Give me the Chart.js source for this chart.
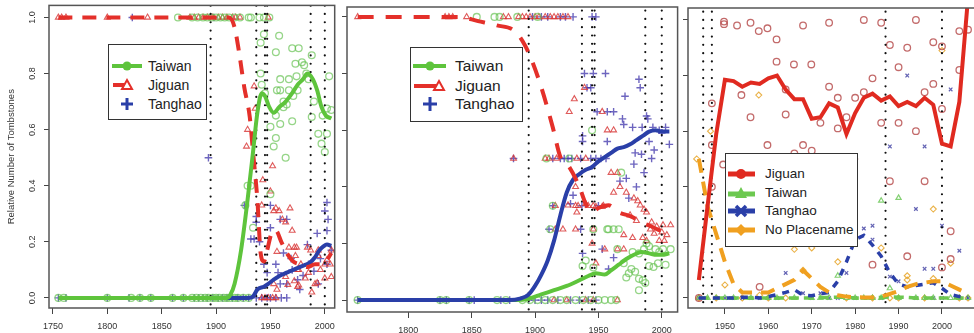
<!DOCTYPE html>
<html lang="en">
<head>
<meta charset="UTF-8">
<title>Tombstones</title>
<script src="https://cdn.jsdelivr.net/npm/chart.js@4.4.1/dist/chart.umd.min.js"></script>
<style>
  body { margin: 0; width: 974px; height: 333px; overflow: hidden; background: #fff; position: relative; }
  canvas { position: absolute; top: 0; }
  .leg { position: absolute; border: 1.5px solid #333; background: #fff; box-sizing: border-box;
         font-family: "Liberation Sans", Arial, Helvetica, sans-serif; color: #222; }
  .leg .row { position: absolute; left: 0; right: 0; }
  .leg svg { position: absolute; top: 0; }
  .leg span { position: absolute; white-space: nowrap; }
</style>
</head>
<body>
<canvas id="c1" width="342" height="333" style="left:0px"></canvas>
<canvas id="c2" width="342" height="333" style="left:341px"></canvas>
<canvas id="c3" width="300" height="333" style="left:682px"></canvas>

<!-- legend panel 1 -->
<div class="leg" style="left:108px;top:44px;width:99px;height:76px;font-size:14px">
  <div class="row" style="top:12px;height:18px;line-height:18px">
    <svg width="32" height="18" style="left:2px"><line x1="1" y1="9" x2="31" y2="9" stroke="#5ec43c" stroke-width="4"/><circle cx="16" cy="9" r="4.5" fill="#5ec43c"/></svg>
    <span style="left:39px">Taiwan</span></div>
  <div class="row" style="top:31px;height:18px;line-height:18px">
    <svg width="32" height="18" style="left:2px"><line x1="2" y1="9" x2="16" y2="9" stroke="#e4302a" stroke-width="4"/><polygon points="16,4 21,13 11,13" fill="#fff" stroke="#e4302a" stroke-width="2"/></svg>
    <span style="left:39px">Jiguan</span></div>
  <div class="row" style="top:50px;height:18px;line-height:18px">
    <svg width="32" height="18" style="left:2px"><line x1="16" y1="3" x2="16" y2="15" stroke="#2a3fa8" stroke-width="3"/><line x1="10" y1="9" x2="22" y2="9" stroke="#2a3fa8" stroke-width="3"/></svg>
    <span style="left:39px">Tanghao</span></div>
</div>

<!-- legend panel 2 -->
<div class="leg" style="left:410px;top:47px;width:113px;height:75px;font-size:15.5px">
  <div class="row" style="top:8px;height:20px;line-height:20px">
    <svg width="36" height="20" style="left:1px"><line x1="1" y1="10" x2="34" y2="10" stroke="#5ec43c" stroke-width="4"/><circle cx="18" cy="10" r="4.5" fill="#5ec43c"/></svg>
    <span style="left:44px">Taiwan</span></div>
  <div class="row" style="top:28px;height:20px;line-height:20px">
    <svg width="36" height="20" style="left:1px"><line x1="2" y1="10" x2="24" y2="10" stroke="#e4302a" stroke-width="4"/><polygon points="27,5 32,14 22,14" fill="#fff" stroke="#e4302a" stroke-width="2"/></svg>
    <span style="left:44px">Jiguan</span></div>
  <div class="row" style="top:46px;height:20px;line-height:20px">
    <svg width="36" height="20" style="left:1px"><line x1="18" y1="3" x2="18" y2="17" stroke="#2a3fa8" stroke-width="3"/><line x1="11" y1="10" x2="25" y2="10" stroke="#2a3fa8" stroke-width="3"/></svg>
    <span style="left:44px">Tanghao</span></div>
</div>

<!-- legend panel 3 -->
<div class="leg" style="left:725px;top:153px;width:133px;height:94px;font-size:13.5px">
  <div class="row" style="top:11px;height:18px;line-height:18px">
    <svg width="30" height="18" style="left:1px"><line x1="1" y1="9" x2="28" y2="9" stroke="#e02a20" stroke-width="5"/><circle cx="14" cy="9" r="5" fill="#e02a20"/></svg>
    <span style="left:39px">Jiguan</span></div>
  <div class="row" style="top:30px;height:18px;line-height:18px">
    <svg width="30" height="18" style="left:1px"><line x1="1" y1="10" x2="28" y2="10" stroke="#6cc850" stroke-width="5"/><polygon points="14,3 20,14 8,14" fill="#6cc850"/></svg>
    <span style="left:39px">Taiwan</span></div>
  <div class="row" style="top:48px;height:18px;line-height:18px">
    <svg width="30" height="18" style="left:1px"><line x1="1" y1="9" x2="28" y2="9" stroke="#2a3fa8" stroke-width="5"/><line x1="9" y1="4" x2="19" y2="14" stroke="#2a3fa8" stroke-width="3.5"/><line x1="19" y1="4" x2="9" y2="14" stroke="#2a3fa8" stroke-width="3.5"/></svg>
    <span style="left:39px">Tanghao</span></div>
  <div class="row" style="top:67px;height:18px;line-height:18px">
    <svg width="30" height="18" style="left:1px"><line x1="1" y1="9" x2="28" y2="9" stroke="#f0a020" stroke-width="5"/><polygon points="14,3 20,9 14,15 8,9" fill="#f0a020"/></svg>
    <span style="left:39px">No Placename</span></div>
</div>

<script>
// ---- axes ----
var xTicks1 = [1750, 1800, 1850, 1900, 1950, 2000];
var xTicks2 = [1800, 1850, 1900, 1950, 2000];
var xTicks3 = [1950, 1960, 1970, 1980, 1990, 2000];
var yTicks = [0, 0.2, 0.4, 0.6, 0.8, 1.0];
var eventYears = [1895, 1937, 1945, 1947, 1987, 2000];

// ---- panel 1: smoothed lines ----
var p1TaiwanYears = [1755, 1910, 1913, 1917, 1923, 1929, 1934, 1938, 1942, 1945, 1949, 1953, 1958, 1964, 1970, 1975, 1980, 1984, 1989, 1993, 1997, 2001, 2006];
var p1TaiwanVals  = [0, 0, 0.01, 0.05, 0.17, 0.35, 0.52, 0.66, 0.73, 0.72, 0.68, 0.66, 0.68, 0.70, 0.73, 0.76, 0.78, 0.80, 0.78, 0.74, 0.68, 0.65, 0.64];
var p1JiguanYears = [1755, 1905, 1912, 1917, 1921, 1926, 1931, 1934, 1938, 1941, 1944, 1947, 1951, 1955, 1960, 1965, 1971, 1977, 1984, 1991, 1996, 2001, 2006];
var p1JiguanVals  = [1, 1, 1, 0.965, 0.88, 0.75, 0.645, 0.52, 0.35, 0.16, 0.13, 0.17, 0.23, 0.24, 0.2, 0.16, 0.13, 0.12, 0.11, 0.12, 0.12, 0.13, 0.16];
var p1TanghaoYears = [1755, 1930, 1934, 1938, 1944, 1948, 1953, 1959, 1965, 1971, 1977, 1982, 1986, 1991, 1995, 1999, 2002, 2006];
var p1TanghaoVals  = [0, 0, 0.005, 0.03, 0.04, 0.05, 0.065, 0.08, 0.09, 0.1, 0.11, 0.118, 0.125, 0.145, 0.17, 0.185, 0.19, 0.185];

// ---- panel 1: yearly points ----
var p1TaiwanPts = [[1755,0],[1760,0],[1800,0],[1822,0],[1830,0],[1840,0],[1860,0],[1870,0],[1878,0],[1882,0],[1886,0],[1890,0],[1893,0],[1897,0],[1900,0],[1903,0],[1907,0],[1910,0],[1913,0],[1917,0],[1920,0],[1925,0],[1930,0],
  [1865,1],[1878,1],[1883,1],[1888,1],[1892,1],[1896,1],[1900,1],[1904,1],[1908,1],[1912,1],[1917,1],[1922,1],[1930,1],[1932,1],[1940,1],[1944,1],[1949,1],
  [1941,0.91],[1944,0.94],[1958,0.935],[1955,0.876],[1970,0.89],[1976,0.89],[1973,0.835],[1981,0.83],[1988,0.865],[1941,0.80],[1959,0.78],[1967,0.78],[1974,0.79],[1983,0.80],
  [1959,0.74],[1956,0.74],[1967,0.74],[1975,0.74],[1965,0.69],[1971,0.72],[1962,0.68],[1955,0.65],[1959,0.62],[1970,0.63],[1988,0.645],[1998,0.65],[2002,0.675],[2006,0.67],
  [1950,0.61],[1955,0.57],[1994,0.585],[2002,0.585],[1953,0.54],[1997,0.55],[2000,0.52],[1964,0.50],[1942,0.76],[1945,0.73],[2004,0.79],[1929,0.40],[1932,0.40],[1927,0.33],
  [1934,0.25],[1950,0.37],[1985,0.78],[1979,0.84],[1962,0.70],[1990,0.70]];
var p1JiguanPts = [[1755,1],[1758,1],[1762,1],[1800,1],[1837,1],[1876,1],[1880,1],[1884,1],[1888,1],[1892,1],[1897,1],[1902,1],[1906,1],[1910,1],[1915,1],[1918,1],[1922,1],[1948,1],
  [1942,0],[1945,0],[1948,0],[1952,0],[1955,0],
  [1935,0.755],[1936,0.675],[1929,0.60],[1928,0.54],[1952,0.47],[1950,0.38],[1955,0.32],[1958,0.31],[1968,0.32],[1961,0.28],[1964,0.27],[1974,0.18],[1967,0.18],[1984,0.18],
  [1994,0.15],[2000,0.12],[2006,0.17],[2006,0.075],[1976,0.10],[1972,0.06],[1964,0.075],[1976,0.045],[1991,0.05],[2000,0.07],[1987,0.17],[1953,0.05],[1956,0.03],[1953,0.31],
  [1970,0.24],[1972,0.18],[1956,0.165],[1973,0.15],[1975,0.10],[1966,0.047],[1975,0.04],[1982,0.07],[1994,0.17],[2002,0.135],[2005,0.12],[1993,0.053],[1988,0.02],[1942,0.33],
  [1943,0.42],[1978,0.12],[1985,0.09],[1996,0.10]];
var p1TanghaoPts = [[1755,0],[1762,0],[1800,0],[1820,0],[1830,0],[1840,0],[1860,0],[1870,0],[1880,0],[1884,0],[1888,0],[1892,0],[1897,0],[1902,0],[1906,0],[1910,0],[1915,0],[1920,0],[1925,0],[1930,0],[1937,0],[1942,0],[1947,0],[1950,0],[1955,0],[1960,0],[1965,0],
  [1823,1],[1898,1],[1893,0.50],[1926,0.33],[1937,0.29],[1937,0.27],[1935,0.21],[1932,0.21],[1950,0.33],[1950,0.25],[1959,0.28],[1965,0.28],[2002,0.34],[2000,0.31],[2003,0.28],
  [1984,0.19],[1993,0.23],[2002,0.24],[1944,0.12],[1947,0.09],[1955,0.12],[1959,0.05],[1965,0.05],[1975,0.065],[1977,0.03],[1985,0.12],[1990,0.095],[1994,0.05],[2002,0.12],
  [2006,0.17],[1969,0.14],[1962,0.16],[1940,0.20],[1957,0.09],[1970,0.10],[1980,0.08],[1996,0.14]];

// ---- panel 2: smoothed lines ----
var p2TaiwanYears = [1760, 1885, 1895, 1905, 1915, 1925, 1935, 1942, 1948, 1955, 1960, 1966, 1972, 1978, 1984, 1990, 1996, 2000, 2006];
var p2TaiwanVals  = [0, 0, 0.005, 0.02, 0.035, 0.05, 0.07, 0.085, 0.095, 0.09, 0.105, 0.125, 0.145, 0.16, 0.17, 0.165, 0.16, 0.16, 0.165];
var p2JiguanYears = [1760, 1800, 1840, 1855, 1870, 1884, 1892, 1898, 1905, 1914, 1920, 1927, 1935, 1940, 1945, 1950, 1958, 1966, 1976, 1984, 1992, 2000, 2006];
var p2JiguanVals  = [1, 1, 1, 0.985, 0.97, 0.95, 0.9, 0.84, 0.75, 0.61, 0.505, 0.47, 0.40, 0.34, 0.31, 0.325, 0.335, 0.31, 0.295, 0.275, 0.26, 0.245, 0.25];
var p2TanghaoYears = [1760, 1880, 1888, 1895, 1900, 1905, 1910, 1915, 1920, 1925, 1930, 1935, 1940, 1945, 1950, 1955, 1960, 1965, 1970, 1975, 1980, 1985, 1990, 1995, 2000, 2006];
var p2TanghaoVals  = [0, 0, 0.005, 0.02, 0.05, 0.09, 0.14, 0.21, 0.3, 0.38, 0.425, 0.445, 0.46, 0.47, 0.49, 0.505, 0.52, 0.535, 0.54, 0.55, 0.565, 0.58, 0.595, 0.6, 0.595, 0.595];

// ---- panel 2: yearly points ----
var p2TaiwanPts = [[1854,1],[1868,1],[1872,1],[1886,1],[1902,1],
  [1760,0],[1825,0],[1830,0],[1848,0],[1870,0],[1877,0],[1890,0],[1896,0],[1902,0],[1908,0],[1914,0],[1920,0],[1925,0],[1932,0],[1938,0],[1944,0],[1950,0],[1955,0],[1960,0],[1964,0],
  [1909,0.5],[1927,0.5],[1914,0.333],[1912,0.25],[1946,0.25],[1958,0.25],[1966,0.25],
  [1945,0.60],[1940,0.14],[1937.5,0.12],[1946,0.115],[1970,0.13],[1974,0.095],[1972,0.08],[1982,0.075],[1985,0.07],[1982,0.035],[1993.5,0.117],[1997,0.13],[2003,0.125],
  [2001,0.18],[2007,0.18],[1986,0.18],[1990,0.19],[1995,0.18],[1977,0.17],[1982,0.165],[1965,0.18],[1962,0.25],[1957,0.25],[1968,0.45],[1988,0.20],[1998,0.17],[1979,0.10],
  [1987,0.06],[1976,0.11],[1990,0.12]];
var p2JiguanPts = [[1760,1],[1829,1],[1832,1],[1835,1],[1846,1],[1875,1],[1879,1],[1887,1],[1890,1],[1893,1],[1896,1],[1900,1],[1903,1],[1908,1],[1912,1],[1915,1],[1918,1],[1922,1],[1926,1],
  [1883,0.5],[1908,0.5],[1911,0.5],[1917,0.5],[1933,0.5],[1940,0.5],
  [1916,0.333],[1932,0.333],[1934,0.333],[1942,0.333],[1946,0.333],[1954,0.333],
  [1916,0.25],[1922,0.25],[1932,0.25],[1946,0.25],
  [1915,0],[1925,0],[1940,0],[1946,0],[1965,0],
  [1939,0.75],[1931,0.71],[1927,0.665],[1953,0.665],[1957,0.60],[1962,0.60],[1965,0.45],[1962,0.38],[1972,0.38],[1978,0.36],[1981,0.35],[1983,0.335],[1986,0.32],[1988,0.31],
  [1992,0.275],[1991,0.25],[1994,0.235],[2001,0.265],[2007,0.265],[2000,0.24],[1998,0.21],[2002,0.21],[2004,0.23],[1932,0.40],[1926,0.335],[1933,0.31],[1940,0.34],[1948,0.33],
  [1953,0.33],[1970,0.23],[1977,0.22],[1985,0.22],[1988,0.21],[1965,0.18],[1970,0.18],[1955,0.18],[1948,0.13],[1945,0.20],[1975,0.30],[1996,0.26],[1960,0.45],[1967,0.40],[1980,0.28]];
var p2TanghaoPts = [[1898,1],[1905,1],[1910,1],[1920,1],[1924,1],[1930,1],[1945,1],[1948,1],
  [1883,0.5],[1914,0.5],[1920,0.5],[1923,0.5],[1926,0.5],[1929,0.5],[1936,0.5],[1944,0.5],[1948,0.5],[1952,0.5],[1956,0.5],
  [1914,0.333],[1937,0.333],[1950,0.333],[1911,0.25],[1936,0.25],
  [1760,0],[1825,0],[1830,0],[1848,0],[1852,0],[1873,0],[1880,0],[1895,0],[1900,0],[1905,0],[1910,0],[1918,0],[1928,0],[1935,0],[1942,0],[1948,0],
  [1939,0.80],[1946,0.80],[1955.6,0.80],[1982,0.78],[1983,0.75],[1971,0.72],[1941,0.75],[1949,0.665],[1957,0.665],[1962,0.665],[1969,0.64],[1970,0.62],[1977,0.61],[1984.5,0.61],
  [1988,0.65],[1989,0.64],[1993,0.61],[1998,0.60],[2003,0.61],[2006,0.55],[1937.5,0.58],[1937.5,0.56],[1957,0.56],[1944,0.75],[1979,0.52],[1984,0.515],[1978,0.48],[1967,0.42],
  [1972,0.43],[1937.5,0.165],[1930,0.37],[1928,0.34],[1974,0.36],[1990,0.56],[1994,0.53],[1992,0.50],[2000,0.59],[1986,0.45],[1980,0.40],[1953,0.18],[1962,0.15],[1958,0.11]];

// ---- panel 3: yearly lines (1944-2006, every 2 years) ----
var p3Years = [1944, 1946, 1948, 1950, 1952, 1954, 1956, 1958, 1960, 1962, 1964, 1966, 1968, 1970, 1972, 1974, 1976, 1978, 1980, 1982, 1984, 1986, 1988, 1990, 1992, 1994, 1996, 1998, 2000, 2002, 2004, 2006];
var p3JiguanVals  = [0.065, 0.33, 0.59, 0.785, 0.78, 0.76, 0.775, 0.77, 0.79, 0.80, 0.75, 0.715, 0.715, 0.645, 0.65, 0.70, 0.685, 0.59, 0.665, 0.72, 0.735, 0.71, 0.725, 0.69, 0.705, 0.69, 0.72, 0.695, 0.555, 0.545, 0.705, 1.08];
var p3TaiwanVals  = [0, 0, 0, 0, 0, 0, 0, 0, 0, 0, 0, 0, 0, 0, 0.002, 0.002, 0.003, 0.002, 0, 0, 0, 0.002, 0.004, 0.003, 0.002, 0, 0, 0, 0, 0, 0, 0];
var p3TanghaoVals = [0, 0, 0, 0, 0, 0.003, 0.003, 0, 0.005, 0.012, 0.02, 0.03, 0.01, 0.008, 0.015, 0.02, 0.06, 0.13, 0.21, 0.225, 0.19, 0.15, 0.09, 0.05, 0.04, 0.045, 0.05, 0.055, 0.035, 0.012, 0.005, 0.003];
var p3NoPlaceVals = [0.50, 0.33, 0.23, 0.13, 0.05, 0.02, 0.02, 0.02, 0.02, 0.035, 0.05, 0.065, 0.10, 0.07, 0.04, 0.02, 0.01, 0.005, 0.003, 0.002, 0.002, 0.005, 0.015, 0.025, 0.04, 0.05, 0.055, 0.06, 0.06, 0.045, 0.03, 0.015];

// ---- panel 3: yearly points ----
var p3JiguanPts = [[1949.8,0.994],[1949.8,0.985],[1952.8,0.98],[1955.9,0.99],[1957.8,0.96],[1959.8,0.97],[1961.9,0.93],[1968,0.98],[1974,0.99],[1982,1.0],[1986,0.99],[1994,1.0],[2004,0.96],[2006,0.965],
  [1961.9,0.85],[1965.9,0.84],[1969.9,0.84],[1988,0.91],[1992,0.90],[1998,0.92],[2000,0.905],[1990,0.83],[1984,0.79],[1998,0.77],[1996,0.74],[2004,0.82],[1953.8,0.73],[1964,0.75],
  [1974,0.76],[1976,0.72],[1980,0.72],[1982,0.74],[1955.9,0.65],[1964,0.66],[1972,0.63],[1976,0.61],[1978,0.65],[1986,0.63],[1990,0.63],[1994,0.60],[2000,0.68],[1947,0.70],
  [1959.8,0.55],[1968,0.55],[1970,0.53],[1966,0.52],[1979.8,0.50],[1949.6,0.48],[1952.8,0.47],[1947,0.40],[1947,0.55],[1978,0.41],[1972,0.27],[1988,0.42],[1996,0.42],
  [2002,0.24],[1992,0.15],[1984,0.12],[2000,0.11],[2002,0.14],[1958,0.04],[1944,0]];
var p3TaiwanPts = [[1944,0],[1946,0],[1948,0],[1950,0],[1952,0],[1956,0],[1960,0],[1962,0],[1966,0],[1970,0],[1972,0],[1974,0],[1978,0],[1980,0],[1982,0],[1984,0],[1986,0],[1990,0],
  [1994,0],[1996,0],[1998,0],[2002,0],[2004,0],[2006,0],
  [1971.8,0.375],[1986,0.35],[1990,0.36],[1971.8,0.195],[1976,0.08],[1988,0.035]];
var p3TanghaoPts = [[1944,0],[1950,0],[1952,0],[1954,0],[1956,0],[1958,0],[1960,0],[1962,0],[1970,0],[1974,0],[1976,0],[1980,0],[1986,0],[1994,0],[1998,0],[2000,0],[2004,0],[2006,0],
  [1968,0.017],[1972,0.017],[1992,0.80],[2002,0.75],[1988,0.545],[1996,0.545],[1978,0.335],[1980,0.28],[1982,0.25],[1984,0.26],[1984,0.21],[1994,0.32],[2000,0.26],[2004,0.17],
  [1964,0.09],[1978,0.09],[1996,0.105],[1998,0.105],[1988,0.077],[1990,0.06]];
var p3NoPlacePts = [[1943.5,0.50],[1946.7,0.60],[1957.8,0.73],[1952.7,0.35],[1966,0.175],[1970,0.18],[1968,0.10],[1976,0.13],[1986,0.18],[1998,0.32],[1992,0.08],[1992,0.065],
  [1998,0.07],[1950,0.047],[1958,0.01],[2000,0.89],[2002,0.125],
  [1944,0],[1948,0],[1954,0],[1960,0],[1964,0],[1978,0],[1984,0],[1988,0],[1990,0],[1996,0],[2004,0],[2006,0]];

var FONT = '"Liberation Sans", Arial, Helvetica, sans-serif';

function pts(pairs) { return pairs.map(function (p) { return { x: p[0], y: p[1] }; }); }
function zipLine(xs, ys) { return xs.map(function (x, i) { return { x: x, y: ys[i] }; }); }

function lineSet(xs, ys, color, width, dash, smooth) {
  return { type: 'line', data: zipLine(xs, ys), borderColor: color, borderWidth: width, borderDash: dash || [],
           pointRadius: 0, tension: smooth ? 0.4 : 0, cubicInterpolationMode: smooth ? 'monotone' : 'default', order: 1 };
}
function pointSet(pairs, style, color, radius, bw) {
  return { type: 'scatter', data: pts(pairs), pointStyle: style, radius: radius, borderColor: color,
           backgroundColor: 'rgba(0,0,0,0)', borderWidth: bw, order: 5 };
}
function eventSets() {
  return eventYears.map(function (yr) {
    return { type: 'line', data: [{ x: yr, y: -1 }, { x: yr, y: 2 }], borderColor: '#111', borderWidth: 2.2,
             borderDash: [0, 8.3], borderCapStyle: 'round', pointRadius: 0, order: 3 };
  });
}

// box round the plot area, like R's box()
var framePlugin = {
  id: 'frame',
  afterDatasetsDraw: function (chart) {
    var a = chart.chartArea, ctx = chart.ctx;
    ctx.save();
    ctx.strokeStyle = '#555';
    ctx.lineWidth = 1.5;
    ctx.strokeRect(a.left, a.top, a.right - a.left, a.bottom - a.top);
    ctx.restore();
  }
};

// R prints y tick labels parallel to the axis; Chart.js keeps them flat, so turn them here
var yLabelPlugin = {
  id: 'ylabels',
  afterDraw: function (chart) {
    if (!chart.options.plugins.ylabels || !chart.options.plugins.ylabels.show) return;
    var s = chart.scales.y, ctx = chart.ctx;
    ctx.save();
    ctx.fillStyle = '#333';
    ctx.font = '9px ' + FONT;
    ctx.textAlign = 'center';
    ctx.textBaseline = 'middle';
    s.ticks.forEach(function (t) {
      ctx.save();
      ctx.translate(chart.options.plugins.ylabels.x, s.getPixelForValue(t.value));
      ctx.rotate(-Math.PI / 2);
      ctx.fillText(t.value.toFixed(1), 0, 0);
      ctx.restore();
    });
    ctx.restore();
  }
};

function makePanel(id, cfg) {
  var yScale = {
    min: cfg.yMin, max: cfg.yMax,
    afterBuildTicks: function (s) { s.ticks = yTicks.map(function (v) { return { value: v }; }); },
    afterFit: function (s) { s.width = cfg.yWidth; },
    grid: { drawOnChartArea: false, drawTicks: true, tickLength: 5, color: '#444' },
    border: { display: false },
    ticks: { display: false }
  };
  if (cfg.yTitle) {
    yScale.title = { display: true, text: cfg.yTitle, color: '#333', font: { family: FONT, size: 9.5 }, padding: { top: 6, bottom: 0 } };
  }
  return new Chart(document.getElementById(id), {
    data: { datasets: cfg.datasets },
    options: {
      responsive: false, animation: false, devicePixelRatio: 1,
      layout: { padding: { top: cfg.top, right: cfg.right, left: 0, bottom: 0 } },
      plugins: { legend: { display: false }, tooltip: { enabled: false }, ylabels: { show: cfg.yLabels, x: 33 } },
      scales: {
        x: {
          type: 'linear', min: cfg.xMin, max: cfg.xMax,
          afterBuildTicks: function (s) { s.ticks = cfg.xTicks.map(function (v) { return { value: v }; }); },
          afterFit: function (s) { s.height = cfg.xHeight; },
          grid: { drawOnChartArea: false, drawTicks: true, tickLength: 6, color: '#444' },
          border: { display: false },
          ticks: { autoSkip: false, maxRotation: 0, padding: 7, color: '#333', font: { family: FONT, size: 9 },
                   callback: function (v) { return String(v); } }
        },
        y: yScale
      }
    },
    plugins: [framePlugin, yLabelPlugin]
  });
}

var GREEN = '#5ec43c', RED = '#e4302a', BLUE = '#2a3fa8';
var GREEN_PT = 'rgba(105,195,85,0.7)', RED_PT = 'rgba(215,50,50,0.8)', BLUE_PT = 'rgba(60,50,170,0.75)';

makePanel('c1', {
  xMin: 1746.4, xMax: 2009.1, yMin: -0.036, yMax: 1.043, xTicks: xTicks1,
  top: 5, right: 4, yWidth: 49, xHeight: 25, yLabels: true, yTitle: 'Relative Number of Tombstones',
  datasets: [
    lineSet(p1TaiwanYears, p1TaiwanVals, GREEN, 4, [], true),
    lineSet(p1JiguanYears, p1JiguanVals, RED, 4, [14, 10], true),
    lineSet(p1TanghaoYears, p1TanghaoVals, BLUE, 4, [], true),
    pointSet(p1TaiwanPts, 'circle', GREEN_PT, 3.4, 1.3),
    pointSet(p1JiguanPts, 'triangle', RED_PT, 3.4, 1.1),
    pointSet(p1TanghaoPts, 'cross', BLUE_PT, 3.8, 1.4)
  ].concat(eventSets())
});

makePanel('c2', {
  xMin: 1751.6, xMax: 2012.5, yMin: -0.042, yMax: 1.035, xTicks: xTicks2,
  top: 7, right: 2, yWidth: 6, xHeight: 21, yLabels: false,
  datasets: [
    lineSet(p2JiguanYears, p2JiguanVals, RED, 4, [16, 12], true),
    lineSet(p2TanghaoYears, p2TanghaoVals, BLUE, 4, [], true),
    lineSet(p2TaiwanYears, p2TaiwanVals, GREEN, 4, [], true),
    pointSet(p2TaiwanPts, 'circle', GREEN_PT, 3.4, 1.3),
    pointSet(p2JiguanPts, 'triangle', RED_PT, 3.4, 1.1),
    pointSet(p2TanghaoPts, 'cross', BLUE_PT, 3.8, 1.4)
  ].concat(eventSets())
});

makePanel('c3', {
  xMin: 1941.5, xMax: 2008.0, yMin: -0.036, yMax: 1.043, xTicks: xTicks3,
  top: 8, right: 4, yWidth: 6, xHeight: 25, yLabels: false,
  datasets: [
    lineSet(p3Years, p3JiguanVals, '#e02a20', 4, [], false),
    lineSet(p3Years, p3NoPlaceVals, '#f0a020', 4, [14, 9], false),
    lineSet(p3Years, p3TanghaoVals, BLUE, 3.5, [7, 7], false),
    lineSet(p3Years, p3TaiwanVals, '#6cc850', 3.5, [10, 5], false),
    pointSet(p3JiguanPts, 'circle', 'rgba(180,70,70,0.8)', 3.3, 1.3),
    pointSet(p3TaiwanPts, 'triangle', 'rgba(110,200,90,0.85)', 3, 1.2),
    pointSet(p3TanghaoPts, 'crossRot', 'rgba(60,60,160,0.8)', 2.5, 1.2),
    pointSet(p3NoPlacePts, 'rectRot', 'rgba(230,165,40,0.85)', 3, 1.1)
  ].concat(eventSets())
});
</script>
</body>
</html>
